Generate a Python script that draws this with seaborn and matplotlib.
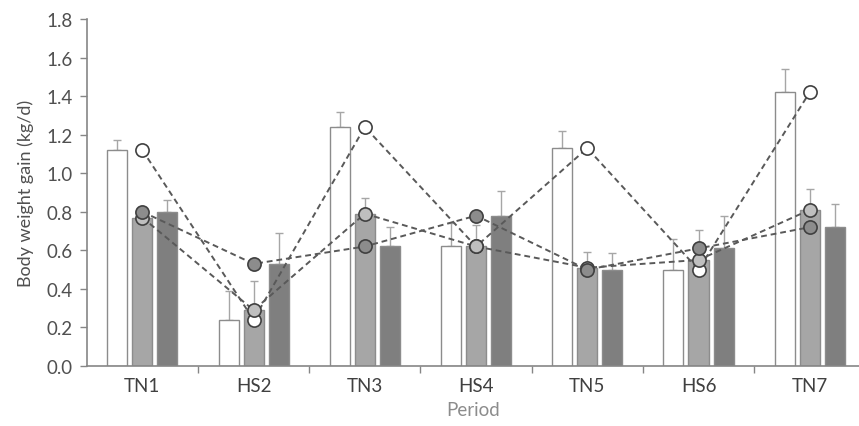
import numpy as np
import pandas as pd
import matplotlib
matplotlib.use("Agg")
import matplotlib.pyplot as plt
import seaborn as sns

periods = ["TN1", "HS2", "TN3", "HS4", "TN5", "HS6", "TN7"]
groups = ["A", "B", "C"]

gain_a = [1.12, 0.24, 1.24, 0.62, 1.13, 0.50, 1.42]
gain_b = [0.77, 0.29, 0.79, 0.62, 0.51, 0.55, 0.81]
gain_c = [0.80, 0.53, 0.62, 0.78, 0.50, 0.61, 0.72]

err_a = [0.05, 0.15, 0.08, 0.12, 0.09, 0.16, 0.12]
err_b = [0.03, 0.15, 0.08, 0.11, 0.08, 0.155, 0.11]
err_c = [0.06, 0.16, 0.10, 0.13, 0.085, 0.17, 0.12]

bar_colors = ["#ffffff", "#a6a6a6", "#7f7f7f"]
marker_colors = ["#ffffff", "#bfbfbf", "#8c8c8c"]

df = pd.DataFrame({
    "period": periods * 3,
    "group": [g for g in groups for _ in periods],
    "gain": gain_a + gain_b + gain_c,
    "err": err_a + err_b + err_c,
})

sns.set_style("white")
plt.rcParams["font.family"] = ["Lato", "DejaVu Sans"]

fig = plt.figure(figsize=(8.59, 4.27), dpi=100)
ax = fig.add_axes([0.101, 0.1405, 0.899, 0.8126])

sns.barplot(data=df, x="period", y="gain", hue="group", order=periods,
            hue_order=groups, palette=bar_colors, width=0.675, gap=0.2,
            errorbar=None, edgecolor="#8c8c8c", linewidth=1.0, legend=False,
            saturation=1, ax=ax, zorder=2)

# upper error bars from each bar top
for cont, g in zip(ax.containers, groups):
    sub = df[df["group"] == g].set_index("period").loc[periods]
    xs = [p.get_x() + p.get_width() / 2 for p in cont.patches]
    ax.errorbar(xs, sub["gain"], yerr=[np.zeros(len(xs)), sub["err"]],
                fmt="none", ecolor="#a6a6a6", elinewidth=1.0, capsize=3,
                capthick=1.0, zorder=1.5)

# dashed lines with markers at the category centre
for g, mc in zip(groups, marker_colors):
    sub = df[df["group"] == g].set_index("period").loc[periods]
    ax.plot(periods, sub["gain"], linestyle=(0, (3, 2)), color="#595959",
            linewidth=1.4, marker="o", markersize=9.5, markerfacecolor=mc,
            markeredgecolor="#404040", markeredgewidth=1.2, zorder=3)

ax.set_ylim(0, 1.8)
ax.set_yticks(np.arange(0, 1.81, 0.2))
ax.set_yticklabels([f"{v:.1f}" for v in np.arange(0, 1.81, 0.2)])
ax.set_xlim(-0.5, 6.443)

ax.set_xticks(range(len(periods)))
ax.set_xticklabels(periods)
ax.set_xticks(np.arange(0.5, 6.0, 1.0), minor=True)
ax.tick_params(axis="x", which="major", length=0, pad=8, labelsize=13.5,
               labelcolor="#404040")
ax.tick_params(axis="x", which="minor", length=5, width=1, color="#868686",
               direction="out", bottom=True)
ax.tick_params(axis="y", length=5, width=1, color="#868686", direction="out",
               left=True, labelsize=13.5, labelcolor="#505050", pad=5)

for side in ["top", "right"]:
    ax.spines[side].set_visible(False)
for side in ["left", "bottom"]:
    ax.spines[side].set_color("#868686")
    ax.spines[side].set_linewidth(1.2)

ax.set_xlabel("Period", fontsize=13.5, color="#8c8c8c", labelpad=5)
ax.set_ylabel("Body weight gain (kg/d)", fontsize=13, color="#505050",
              labelpad=9)

fig.savefig("out.png", dpi=100)
